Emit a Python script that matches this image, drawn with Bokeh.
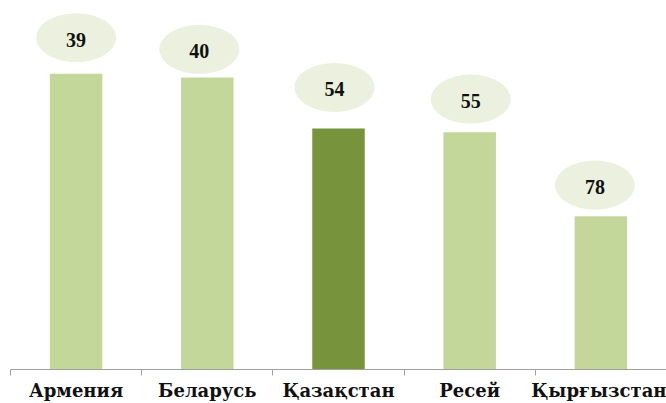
from bokeh.plotting import figure
from bokeh.models import Range1d, FixedTicker, ColumnDataSource
from bokeh.core.properties import value
from bokeh.embed import file_html
from bokeh.resources import INLINE

# ---- data ----
countries = ["Армения", "Беларусь", "Қазақстан", "Ресей", "Қырғызстан"]
ranks = [39, 40, 54, 55, 78]
bar_colors = ["#C4D79B", "#C4D79B", "#77933C", "#C4D79B", "#C4D79B"]
label_dx = [0, -8, -4, 1, -6]        # label bubble offsets (px)
label_dy = [-36, -28, -41, -33, -31]  # label bubble offsets (px, negative = up)

Y_BOTTOM = 120          # reversed axis: bars run from the rank down to this baseline
PX_PER_UNIT = 3.63
FRAME_H = 367
FRAME_W = 656

n = len(countries)
xs = [i + 0.5 for i in range(n)]
cat_px = FRAME_W / n

p = figure(width=666, height=403, output_backend="svg", toolbar_location=None,
           x_range=Range1d(0, n),
           y_range=Range1d(start=Y_BOTTOM, end=Y_BOTTOM - FRAME_H / PX_PER_UNIT),
           min_border_left=10, min_border_right=0, min_border_top=0, min_border_bottom=0)
p.outline_line_color = None
p.grid.visible = False
p.yaxis.visible = False
p.background_fill_color = "white"
p.border_fill_color = "white"

src = ColumnDataSource(dict(x=xs, top=ranks, color=bar_colors))
p.vbar(x="x", top="top", bottom=Y_BOTTOM, width=0.4, fill_color="color",
       line_color=None, source=src)

ex = [x + dx / cat_px for x, dx in zip(xs, label_dx)]
ey = [r + dy / PX_PER_UNIT for r, dy in zip(ranks, label_dy)]
lsrc = ColumnDataSource(dict(x=ex, y=ey, t=[str(r) for r in ranks]))
p.ellipse(x="x", y="y", width=80, height=49, width_units="screen", height_units="screen",
          fill_color="#EBF1DE", line_color=None, source=lsrc)
p.text(x="x", y="y", text="t", text_align="center", text_baseline="middle", y_offset=2,
       text_font=value("Liberation Serif"), text_font_style="bold", text_font_size="20px",
       text_color="#111111", source=lsrc)

ax = p.xaxis[0]
ax.ticker = FixedTicker(ticks=xs, minor_ticks=list(range(n + 1)))
ax.major_label_overrides = {x: c for x, c in zip(xs, countries)}
ax.major_tick_line_color = None
ax.major_tick_out = 0
ax.major_tick_in = 0
ax.minor_tick_out = 6
ax.minor_tick_in = 0
ax.minor_tick_line_color = "#A0A0A0"
ax.axis_line_color = "#A0A0A0"
ax.major_label_standoff = 4
ax.major_label_text_line_height = 1.0
ax.major_label_text_font = "DejaVu Serif"
ax.major_label_text_font_style = "bold"
ax.major_label_text_font_size = "18px"
ax.major_label_text_color = "#111111"

open("out.html", "w").write(file_html(p, INLINE))
